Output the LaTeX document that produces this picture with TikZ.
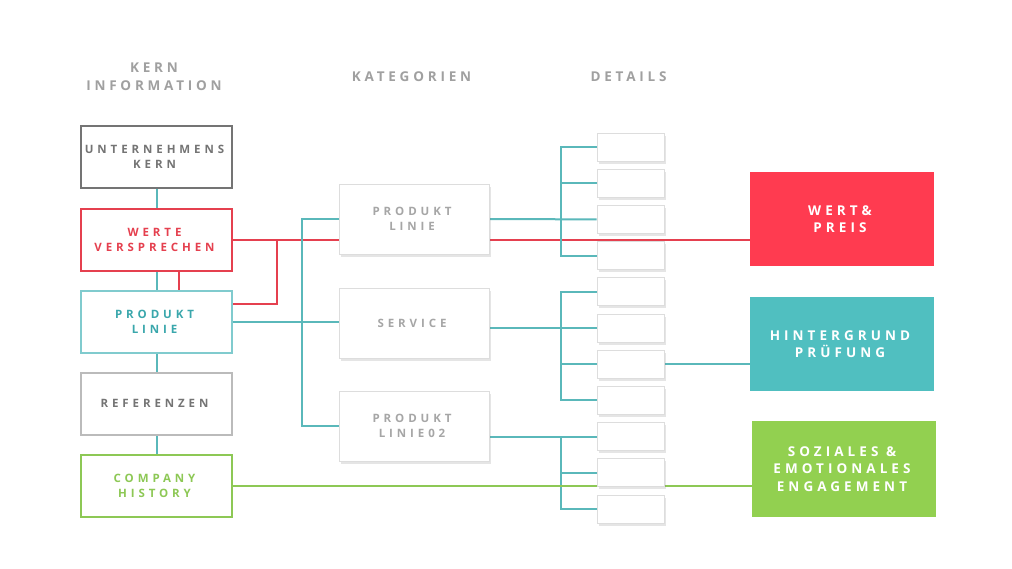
\documentclass[tikz,border=0pt]{standalone}
\usepackage{fontspec}
\setmainfont{Open Sans}
\newfontfamily\hdfont{Open Sans}[LetterSpace=28]
\newfontfamily\bxfont{Open Sans}[LetterSpace=34]
\newfontfamily\rtfont{Open Sans}[LetterSpace=30]
\newcommand\lsamt{0}
\newcommand\E{\kern-\lsamt em}
\usetikzlibrary{shadows,backgrounds}
\definecolor{tealline}{HTML}{5AB8BA}
\definecolor{tealbord}{HTML}{80CBCE}
\definecolor{tealtext}{HTML}{3AA7AC}
\definecolor{redc}{HTML}{E5404F}
\definecolor{redfill}{HTML}{FF3B50}
\definecolor{tealfill}{HTML}{50BFC0}
\definecolor{greenfill}{HTML}{92D050}
\definecolor{greenc}{HTML}{8DC855}
\definecolor{darkg}{HTML}{747474}
\definecolor{lightg}{HTML}{BBBBBB}
\definecolor{hdg}{HTML}{A0A0A0}
\definecolor{midtext}{HTML}{A6A6A6}
\definecolor{shbord}{HTML}{DDDDDD}
\tikzset{
  leftbox/.style={draw, line width=2pt, fill=white, minimum width=151pt, minimum height=62pt, inner sep=0pt, align=center, font=\renewcommand\lsamt{0.34}\bxfont\bfseries\fontsize{11.5}{15}\selectfont},
  midbox/.style={draw=shbord, line width=0.8pt, fill=white, minimum width=150pt, minimum height=70pt, inner sep=0pt, align=center, text=midtext, font=\renewcommand\lsamt{0.34}\bxfont\bfseries\fontsize{11.5}{15}\selectfont, drop shadow={opacity=0.2, shadow xshift=1.5pt, shadow yshift=-2.5pt}},
  detbox/.style={draw=shbord, line width=0.8pt, fill=white, minimum width=67pt, minimum height=28pt, inner sep=0pt, drop shadow={opacity=0.2, shadow xshift=1.5pt, shadow yshift=-2.5pt}},
  rightbox/.style={minimum width=184pt, minimum height=94pt, inner sep=0pt, align=center, text=white, font=\renewcommand\lsamt{0.30}\rtfont\bfseries\fontsize{13.5}{17.5}\selectfont},
  header/.style={text=hdg, align=center, font=\hdfont\bfseries\fontsize{13.5}{18}\selectfont},
  tline/.style={draw=tealline, line width=2pt},
  rline/.style={draw=redc, line width=2pt},
  gline/.style={draw=greenc, line width=2pt},
}
\begin{document}
\begin{tikzpicture}[x=1pt,y=-1pt]
\useasboundingbox (0,0) rectangle (1012,568);
% headers
\node[header] (h1) at (154,77) {KERN\\INFORMATION};
\node[header] (h2) at (411.5,77) {KATEGORIEN};
\node[header] (h3) at (628.5,77) {DETAILS};
% left column
\node[leftbox, draw=darkg, text=darkg] (uk) at (156.5,157) {\E UNTERNEHMENS\\\E KERN};
\node[leftbox, draw=redc, text=redc] (wv) at (156.5,239.5) {\E WERTE\\\E VERSPRECHEN};
\node[leftbox, draw=tealbord, text=tealtext] (pl) at (156.5,321.5) {\E PRODUKT\\\E LINIE};
\node[leftbox, draw=lightg, text=darkg] (ref) at (156.5,403.5) {\E REFERENZEN};
\node[leftbox, draw=greenc, text=greenc] (ch) at (156.5,485.5) {\E COMPANY\\\E HISTORY};
% middle column
\node[midbox] (m1) at (414,219) {\E PRODUKT\\\E LINIE};
\node[midbox] (m2) at (414,323) {\E SERVICE};
\node[midbox] (m3) at (414,426) {\E PRODUKT\\\E LINIE02};
% right column
\node[rightbox, fill=redfill] (r1) at (842,219) {\E WERT\&\\\E PREIS};
\node[rightbox, fill=tealfill] (r2) at (842,344) {\E HINTERGRUND\\\E PRÜFUNG};
\node[rightbox, fill=greenfill, minimum height=96pt] (r3) at (844,469) {\E SOZIALES \&\\\E EMOTIONALES\\\E ENGAGEMENT};
% details
\foreach \i in {1,...,11}{
  \node[detbox] (d\i) at (630.5,{147+36.2*(\i-1)}) {};
}
\begin{scope}[on background layer]
\fill[white] (0,0) rectangle (1012,568);
% left vertical links
\draw[tline] (uk.south) -- (wv.north);
\draw[tline] (wv.south) -- (pl.north);
\draw[tline] (pl.south) -- (ref.north);
\draw[tline] (ref.south) -- (ch.north);
\draw[rline] ([xshift=22pt]wv.south) -- ([xshift=22pt]pl.north);
% red
\draw[rline] (wv.east) -- (wv.east -| r1.west);
\draw[rline] ([xshift=44pt]wv.east) |- ([yshift=17.5pt]pl.east);
% teal to categories
\draw[tline] (pl.east) -- (pl.east -| m2.west);
\draw[tline] (m1.west) -- ++(-37,0) |- (m3.west);
% categories to details
\draw[tline] (m1.east) -- (d3.west);
\draw[tline] (d1.west) -- ++(-36,0) |- (d4.west);
\draw[tline] (d2.west) -- ++(-36,0);
\draw[tline] (d6.west -| m2.east) -- (d6.west);
\draw[tline] (d5.west) -- ++(-36,0) |- (d8.west);
\draw[tline] (d7.west) -- ++(-36,0);
\draw[tline] (d7.east) -- (d7.east -| r2.west);
\draw[tline] (d9.west -| m3.east) -- (d9.west);
\draw[tline] (d9.west) -- ++(-36,0) |- (d11.west);
\draw[tline] (d10.west) -- ++(-36,0);
% green
\draw[gline] (ch.east) -- (ch.east -| r3.west);
\end{scope}
\end{tikzpicture}
\end{document}
